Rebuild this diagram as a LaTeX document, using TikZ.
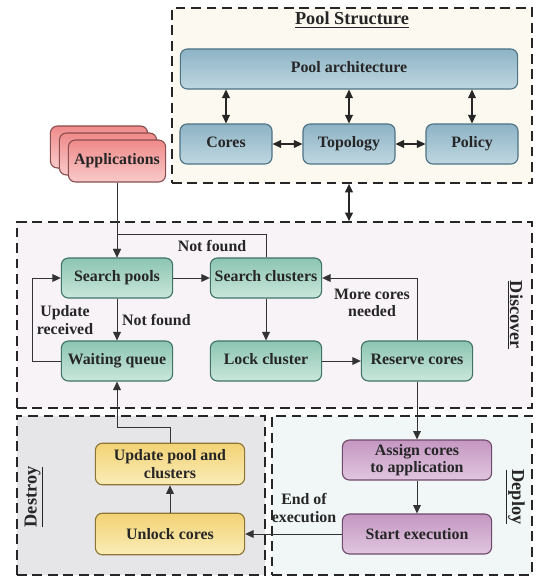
\documentclass[tikz,border=0pt]{standalone}
\usepackage{fontspec}
\setmainfont{Liberation Serif}
\usetikzlibrary{arrows.meta}
\definecolor{pooltop}{HTML}{8DB3C5}
\definecolor{poolbot}{HTML}{C0D7E1}
\definecolor{poolline}{HTML}{4E7384}
\definecolor{disctop}{HTML}{8CC5B2}
\definecolor{discbot}{HTML}{CAE7DB}
\definecolor{discline}{HTML}{3E7366}
\definecolor{apptop}{HTML}{F08A8A}
\definecolor{appbot}{HTML}{F9CACA}
\definecolor{appline}{HTML}{8A4E4E}
\definecolor{desttop}{HTML}{F2D274}
\definecolor{destbot}{HTML}{FAEDB8}
\definecolor{destline}{HTML}{8C7537}
\definecolor{deptop}{HTML}{C597C2}
\definecolor{depbot}{HTML}{E0C6DF}
\definecolor{depline}{HTML}{6E4A6C}
\definecolor{poolbg}{HTML}{FCF9F0}
\definecolor{discbg}{HTML}{F8F3F7}
\definecolor{destbg}{HTML}{E6E6E8}
\definecolor{depbg}{HTML}{F1F7F6}
\tikzset{every node/.style={font=\fontsize{11.3}{12.5}\selectfont\bfseries, text=black!85}}
\tikzset{
  box/.style={draw, rounded corners=5pt, line width=0.8pt, align=center,
    minimum height=1cm, inner sep=2pt},
  oneline/.style={text height=1.6ex, text depth=0.45ex},
  poolbox/.style={box, oneline, draw=poolline, top color=pooltop, bottom color=poolbot, minimum width=2.3cm},
  discbox/.style={box, oneline, draw=discline, top color=disctop, bottom color=discbot, minimum width=2.78cm},
  appbox/.style={box, oneline, draw=appline, top color=apptop, bottom color=appbot, minimum width=2.43cm, minimum height=1.05cm},
  destbox/.style={box, draw=destline, top color=desttop, bottom color=destbot, minimum width=3.73cm, minimum height=1.04cm},
  depbox/.style={box, draw=depline, top color=deptop, bottom color=depbot, minimum width=3.73cm},
  region/.style={draw=black!85, dash pattern=on 7pt off 4pt, line width=1.2pt, inner sep=0pt},
  title/.style={font=\fontsize{13}{15}\selectfont\bfseries},
  flow/.style={-{Triangle[length=6pt,width=5.5pt]}, line width=0.7pt, draw=black!80},
  both/.style={{Triangle[length=6pt,width=5.5pt]}-{Triangle[length=6pt,width=5.5pt]}, line width=1pt, draw=black!85}
}

\begin{document}
\begin{tikzpicture}[x=0.025cm, y=-0.025cm]
  \useasboundingbox (0,0) rectangle (542,578);
  % regions
  \node[region, fill=poolbg, minimum width=9cm, minimum height=4.375cm] (pool) at (352,95.5) {};
  \node[region, fill=discbg, minimum width=12.875cm, minimum height=4.65cm] (disc) at (274.5,315) {};
  \node[region, fill=destbg, minimum width=6.2cm, minimum height=3.975cm] (dest) at (141,495.5) {};
  \node[region, fill=depbg, minimum width=6.5cm, minimum height=3.975cm] (dep) at (402,495.5) {};
  \node[title] (pooltitle) at (352,20) {\underline{Pool Structure}};
  \node[title, rotate=-90] (disctitle) at (515,315) {\underline{Discover}};
  \node[title, rotate=90] (desttitle) at (34,497) {\underline{Destroy}};
  \node[title, rotate=-90] (deptitle) at (515,497) {\underline{Deploy}};

  % pool structure
  \node[poolbox, minimum width=8.43cm] (arch) at (349,69) {Pool architecture};
  \node[poolbox] (cores) at (226,144) {Cores};
  \node[poolbox] (topo) at (349,144) {Topology};
  \node[poolbox] (policy) at (472,144) {Policy};
  \foreach \n in {cores, topo, policy}
    \draw[both] (\n.north) -- (\n.north |- arch.south);
  \draw[both] (cores) -- (topo);
  \draw[both] (topo) -- (policy);
  \draw[both] (topo |- pool.south) -- (topo |- disc.north);

  % applications
  \node[appbox] (app3) at (99,147) {};
  \node[appbox] (app2) at (108,154) {};
  \node[appbox] (app) at (117,161) {Applications};

  % discover
  \node[discbox] (spool) at (117,278) {Search pools};
  \node[discbox] (sclus) at (266,278) {Search clusters};
  \node[discbox] (wq) at (117,361) {Waiting queue};
  \node[discbox] (lock) at (266,361) {Lock cluster};
  \node[discbox] (rcores) at (417,361) {Reserve cores};
  \draw[flow] (app) -- (spool);
  \draw[flow] (sclus.north) -- ++(0,-23) -| (spool.north);
  \node (nf1) at (212,246) {Not found};
  \draw[flow] (spool) -- (sclus);
  \draw[flow] (spool) -- node[right] (nf2) {Not found} (wq);
  \draw[flow] (wq.west) -- ++(-28,0) |- (spool.west);
  \node[align=center] (upd) at (65,320) {Update\\received};
  \draw[flow] (sclus) -- (lock);
  \draw[flow] (lock) -- (rcores);
  \draw[flow] (rcores.north) |- (sclus.east);
  \node[align=center] (more) at (372,303) {More cores\\needed};

  % deploy and destroy
  \node[depbox] (assign) at (417,460) {Assign cores\\to application};
  \node[depbox] (start) at (417,534) {Start execution};
  \node[destbox] (update) at (170,464) {Update pool and\\clusters};
  \node[destbox] (unlock) at (170,534) {Unlock cores};
  \draw[flow] (rcores) -- (assign);
  \draw[flow] (assign) -- (start);
  \draw[flow] (start) -- (unlock);
  \node[align=center] (eoe) at (304,508) {End of\\execution};
  \draw[flow] (unlock) -- (update);
  \draw[flow] (update.north) -- ++(0,-15) -| (wq.south);
\end{tikzpicture}
\end{document}
